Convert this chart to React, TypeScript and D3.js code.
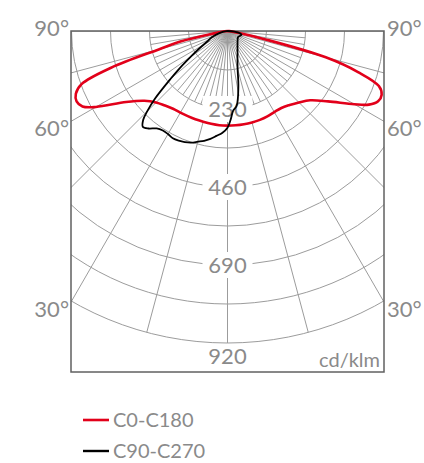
import React from 'react';
import * as d3 from 'd3';

// ---- data ----
const ringValues = [115, 230, 345, 460, 575, 690, 805, 920];
const ringLabels = [230, 460, 690];
const outerLabel = 920;
const angleLabels = [90, 60, 30];
const majorAngles = [0, 15, 30, 45, 60, 75, 90];
const minorAngles = [5, 10, 20, 25, 35, 40, 50, 55, 65, 70, 80, 85];
const unitLabel = 'cd/klm';
const legendNames = ['C0-C180', 'C90-C270'];

// C0-C180 (red): left half = C180, right half = C0
const redAngles = [0, 5, 10, 15, 20, 25, 30, 35, 40, 45, 50, 55, 60, 62.5, 65, 67.5, 70, 72.5, 75, 77.5, 80, 85, 90];
const redC180 = [279, 279, 278, 277, 277, 277, 278, 280, 287, 298, 320, 365, 448, 482, 491, 484, 458, 360, 210, 140, 40, 8, 0];
const redC0 = [279, 279, 279, 279, 279, 278, 276, 277, 285, 298, 318, 362, 432, 470, 490, 492, 475, 405, 300, 115, 35, 5, 0];

// C90-C270 (black): left half = C270, right half = C90
const blackLeftAngles = [0, 3, 6, 9, 12, 15, 18, 21, 24, 27, 30, 33, 36, 39, 41.5, 43.5, 45, 47, 50, 52, 55, 58, 63, 68, 75, 80, 85, 90];
const blackC270 = [285, 301, 311, 322, 331, 338, 346, 351, 354, 355, 351, 350, 355, 370, 377, 361, 335, 292, 218, 180, 132, 100, 65, 50, 25, 12, 4, 0];
const blackRightAngles = [0, 2, 4, 7, 11, 15, 20, 25, 30, 40, 50, 60, 70, 75, 80, 85, 90];
const blackC90 = [285, 262, 236, 222, 168, 115, 86, 70, 59, 46, 39, 36, 40, 43, 37, 20, 0];

// ---- layout ----
const W = 424;
const H = 463;
const CX = 227.5;
const CY = 31;
const BOX = { x0: 71, x1: 384, y0: 31, y1: 372 };
const R = 312;
const GRAY = '#8a8a8a';
const GRID = '#9c9c9c';
const RED = '#e2001a';
const FONT = 'Lato, "Liberation Sans", Arial, sans-serif';

const rad = (deg: number) => (deg * Math.PI) / 180;

function App() {
  const r = d3.scaleLinear().domain([0, 920]).range([0, R]);

  const radial = d3
    .lineRadial<[number, number]>()
    .angle((d) => d[0])
    .radius((d) => d[1])
    .curve(d3.curveCatmullRom.alpha(0.5));

  const buildPath = (la: number[], lv: number[], ra: number[], rv: number[]) => {
    const pts: [number, number][] = [];
    for (let i = la.length - 1; i >= 0; i--) pts.push([Math.PI + rad(la[i]), r(lv[i])]);
    for (let i = 1; i < ra.length; i++) pts.push([Math.PI - rad(ra[i]), r(rv[i])]);
    return radial(pts) || '';
  };

  const redPath = buildPath(redAngles, redC180, redAngles, redC0);
  const blackPath = buildPath(blackLeftAngles, blackC270, blackRightAngles, blackC90);

  const arc = (v: number) => {
    const rr = r(v);
    return `M${-rr},0A${rr},${rr} 0 0 0 ${rr},0`;
  };

  const rayLine = (deg: number, side: number, r0: number, r1: number, key: string) => {
    const a = rad(deg);
    return (
      <line
        key={key}
        x1={side * r0 * Math.sin(a)}
        y1={r0 * Math.cos(a)}
        x2={side * r1 * Math.sin(a)}
        y2={r1 * Math.cos(a)}
        stroke={GRID}
        strokeWidth={1}
      />
    );
  };

  const labelY = (deg: number) => {
    if (deg === 90) return CY + 5;
    return CY + (BOX.x1 - BOX.x0) / 2 / Math.tan(rad(deg)) + 15;
  };

  return (
    <svg width={W} height={H} style={{ position: 'absolute', left: 0, top: 0, background: '#fff' }}>
      <defs>
        <clipPath id="boxclip">
          <rect x={BOX.x0} y={BOX.y0} width={BOX.x1 - BOX.x0} height={BOX.y1 - BOX.y0} />
        </clipPath>
      </defs>
      <g clipPath="url(#boxclip)">
        <g transform={`translate(${CX},${CY})`} fill="none">
          {ringValues.map((v) => (
            <path key={v} d={arc(v)} stroke={GRID} strokeWidth={1} fill="none" />
          ))}
          {majorAngles.map((a) =>
            a === 0
              ? rayLine(0, 1, 0, r(920), 'm0')
              : [rayLine(a, 1, 0, r(920), `mr${a}`), rayLine(a, -1, 0, r(920), `ml${a}`)]
          )}
          {minorAngles.map((a) => [
            rayLine(a, 1, 0, r(230), `nr${a}`),
            rayLine(a, -1, 0, r(230), `nl${a}`),
          ])}
          {ringLabels.map((v) => (
            <g key={`l${v}`}>
              <rect x={-25} y={r(v) - 13} width={50} height={26} fill="#fff" />
              <text
                x={0}
                y={r(v) + 8}
                textAnchor="middle"
                fontFamily={FONT}
                fontSize={22}
                fill={GRAY}
              >
                {v}
              </text>
            </g>
          ))}
          <text x={0} y={r(outerLabel) + 21} textAnchor="middle" fontFamily={FONT} fontSize={22} fill={GRAY}>
            {outerLabel}
          </text>
        </g>
      </g>
      <rect
        x={BOX.x0}
        y={BOX.y0}
        width={BOX.x1 - BOX.x0}
        height={BOX.y1 - BOX.y0}
        fill="none"
        stroke="#606060"
        strokeWidth={1.5}
      />
      <rect x={BOX.x1 - 66} y={BOX.y1 - 24} width={64} height={22} fill="#fff" />
      <text x={BOX.x1 - 4} y={BOX.y1 - 5} textAnchor="end" fontFamily={FONT} fontSize={20} fill={GRAY}>
        {unitLabel}
      </text>
      {angleLabels.map((a) => (
        <g key={`a${a}`}>
          <text x={BOX.x0 - 2} y={labelY(a)} textAnchor="end" fontFamily={FONT} fontSize={22} fill={GRAY}>
            {a}°
          </text>
          <text x={BOX.x1 + 3} y={labelY(a)} textAnchor="start" fontFamily={FONT} fontSize={22} fill={GRAY}>
            {a}°
          </text>
        </g>
      ))}
      <g transform={`translate(${CX},${CY})`} fill="none">
        <path d={redPath} stroke={RED} strokeWidth={2.6} fill="none" strokeLinejoin="round" />
        <path d={blackPath} stroke="#000" strokeWidth={1.8} fill="none" strokeLinejoin="round" />
      </g>
      <line x1={83} x2={109} y1={420} y2={420} stroke={RED} strokeWidth={2.6} />
      <text x={113} y={427} fontFamily={FONT} fontSize={20} fill={GRAY}>
        {legendNames[0]}
      </text>
      <line x1={83} x2={109} y1={451} y2={451} stroke="#000" strokeWidth={2.4} />
      <text x={113} y={458} fontFamily={FONT} fontSize={20} fill={GRAY}>
        {legendNames[1]}
      </text>
    </svg>
  );
}

export default App;
